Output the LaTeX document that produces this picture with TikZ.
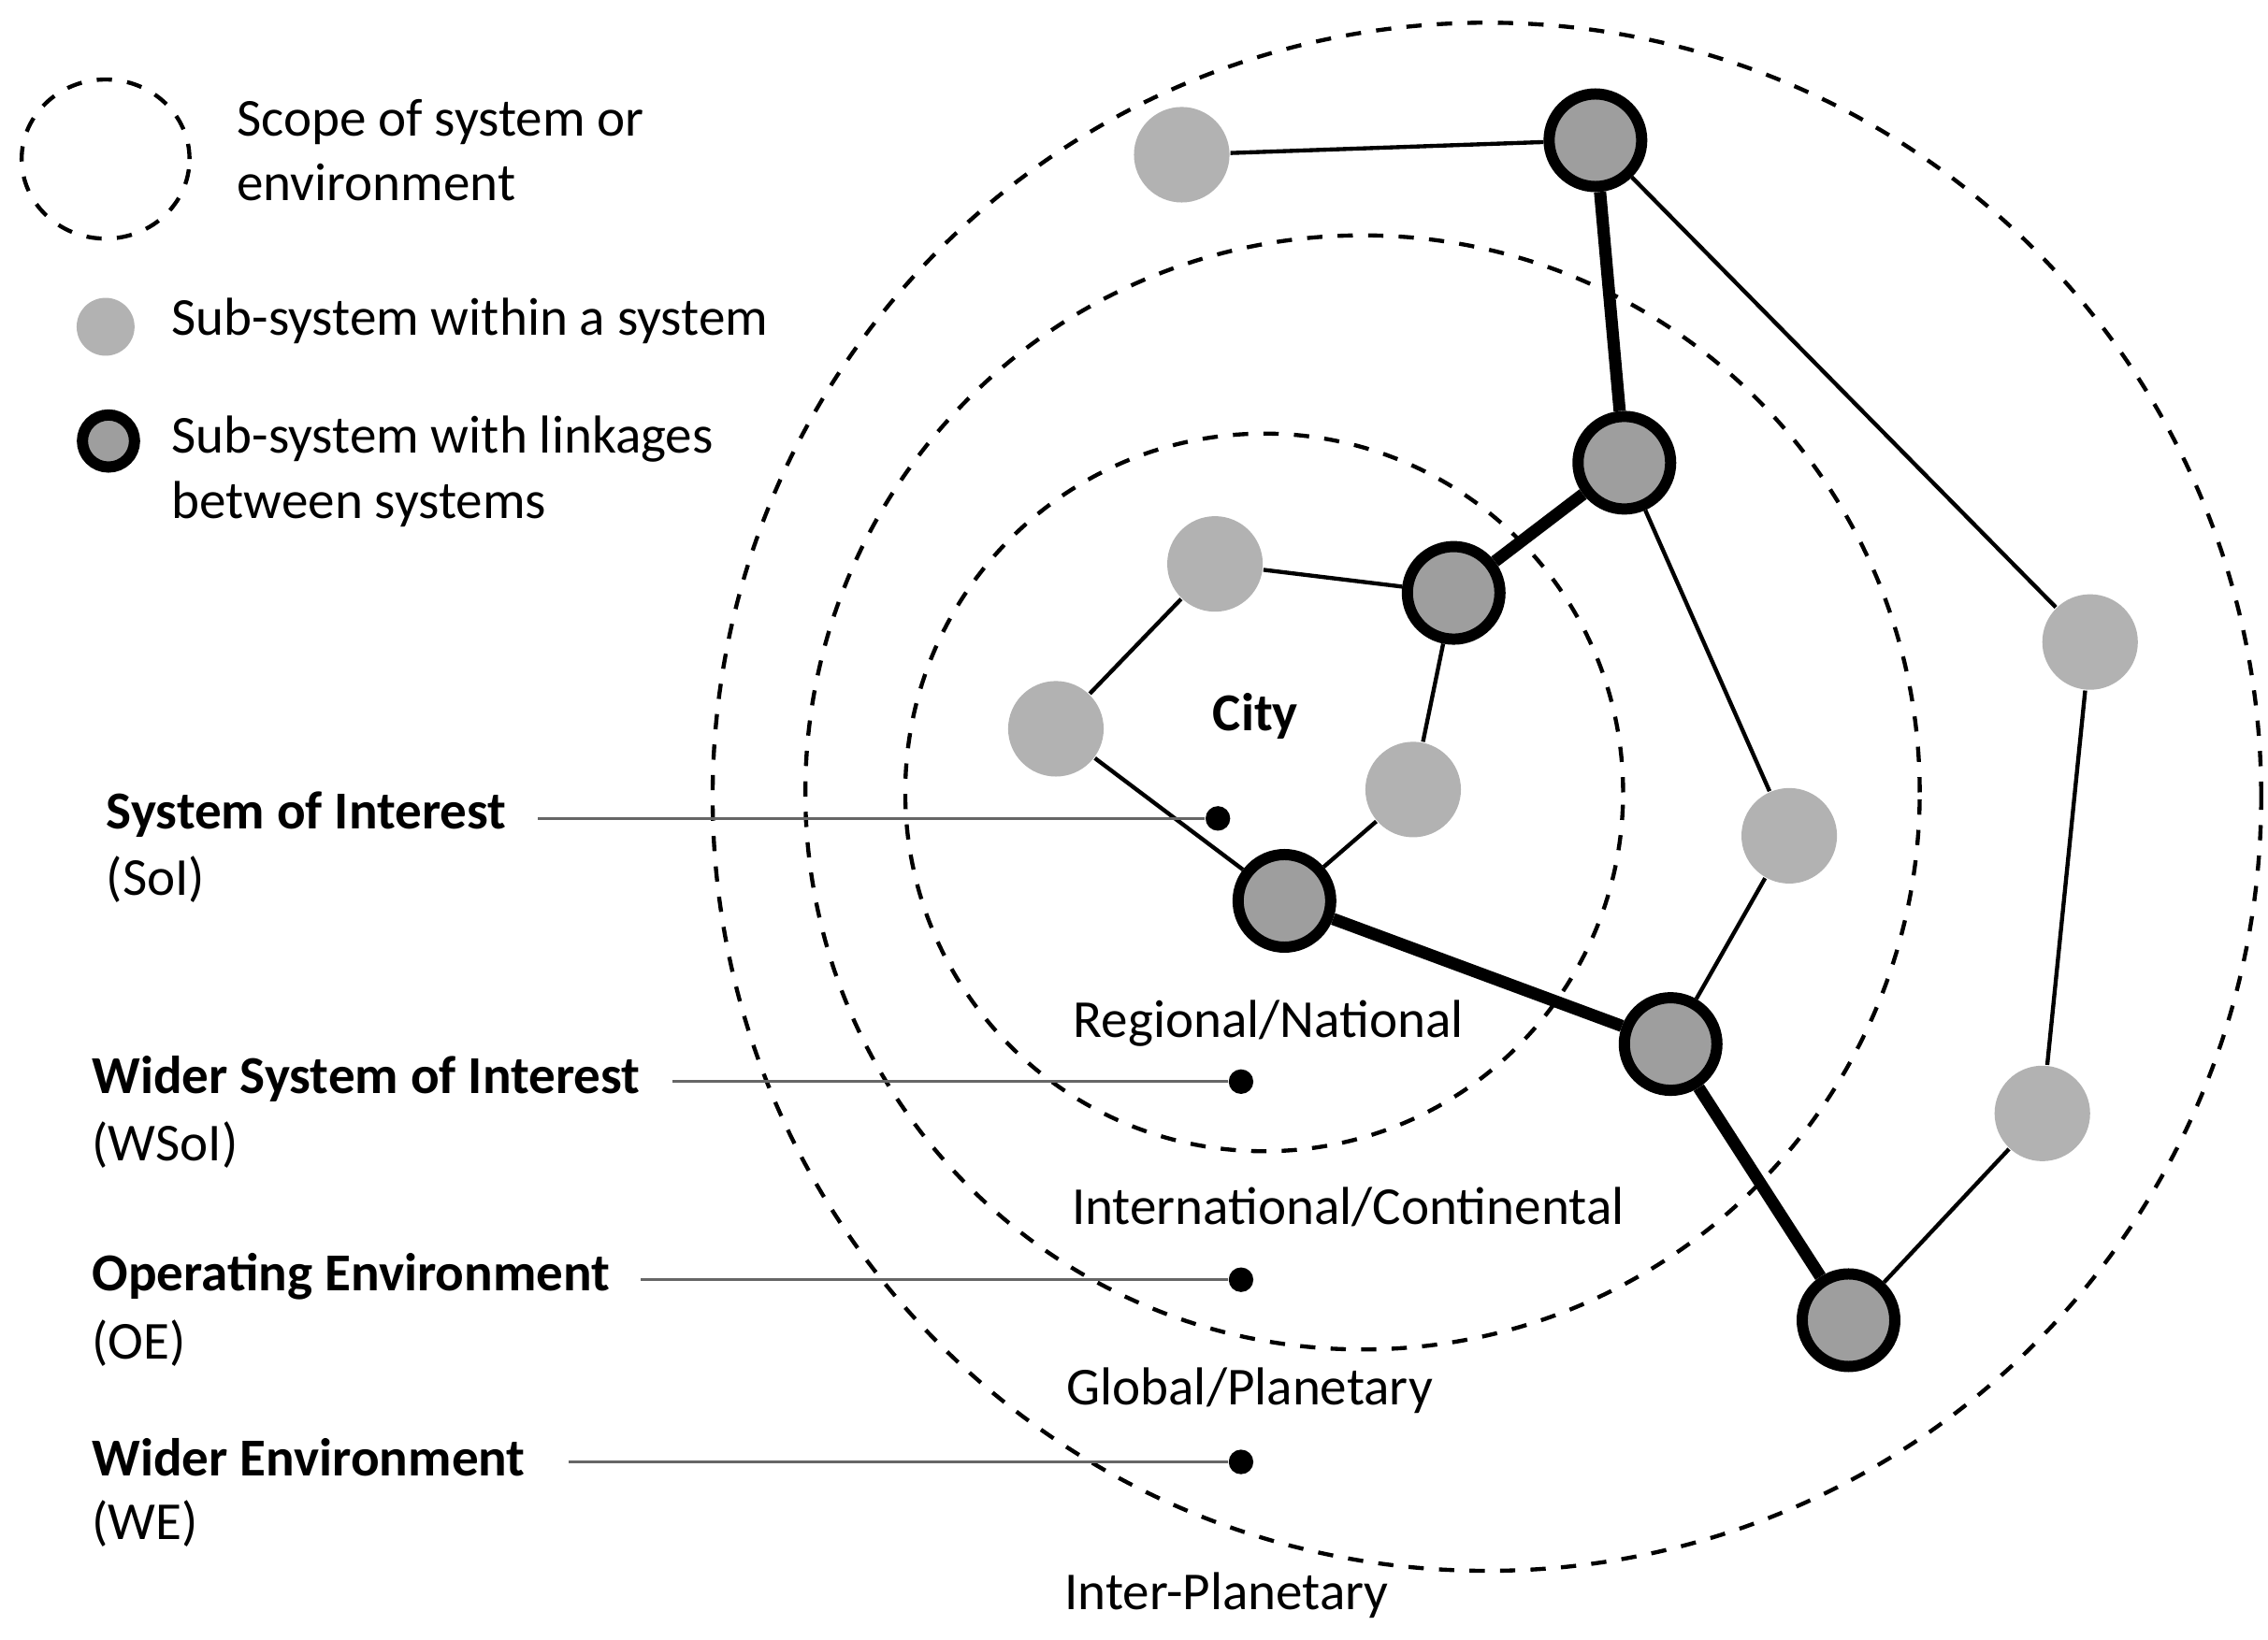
\documentclass[tikz,border=0pt]{standalone}
\usepackage{fontspec}
\setmainfont{Carlito}
\begin{document}
\begin{tikzpicture}[x=0.01cm,y=-0.01cm,
  light/.style={circle,fill=black!30,inner sep=0pt,minimum size=0.66cm},
  heavy/.style={circle,fill=black!38,draw=black,line width=2.2pt,inner sep=0pt,minimum size=0.64cm},
  scope/.style={dashed,line width=0.8pt},
  thin/.style={line width=0.8pt},
  thick2/.style={line width=2.4pt},
  lead/.style={line width=0.5pt,draw=black!60},
  pt/.style={circle,fill=black,inner sep=0pt,minimum size=0.17cm},
  txt/.style={font=\fontsize{10.5pt}{12.8pt}\selectfont,inner sep=0pt},
  lbl/.style={txt,anchor=west,align=left}]
\useasboundingbox (0,0) rectangle (1568,1134);
\fill[white] (0,0) rectangle (1568,1134);
% scopes
\draw[scope] (1028,551) circle (5.35cm);
\draw[scope] (942,548) circle (3.85cm);
\draw[scope] (874,548) circle (2.48cm);
\draw[scope] (73,110) ellipse (0.58cm and 0.55cm);
% nodes
\node[light] (A) at (817,107) {};
\node[heavy] (B) at (1103,97) {};
\node[heavy] (C) at (1123,320) {};
\node[heavy] (D) at (1005,410) {};
\node[light] (E) at (840,390) {};
\node[light] (F) at (730,504) {};
\node[light] (G) at (977,546) {};
\node[heavy] (H) at (888,623) {};
\node[light] (I) at (1237,578) {};
\node[heavy] (J) at (1155,722) {};
\node[light] (K) at (1445,444) {};
\node[light] (L) at (1412,770) {};
\node[heavy] (M) at (1278,913) {};
\draw[thin] (A)--(B) (B)--(K) (C)--(I) (D)--(E) (D)--(G) (E)--(F) (F)--(H) (G)--(H) (I)--(J) (K)--(L) (L)--(M);
\draw[thick2] (B)--(C) (C)--(D) (H)--(J) (J)--(M);
% legend
\node[light,minimum size=0.4cm] (l1) at (73,226) {};
\node[heavy,minimum size=0.36cm] (l2) at (75,305) {};
\node[lbl] (t0) at (163,104) {Scope of system or\\environment};
\node[lbl] (t1) at (118,222) {Sub-system within a system};
\node[lbl] (t2) at (118,326) {Sub-system with linkages\\between systems};
% level labels
\node[txt,font=\fontsize{10.5pt}{12.8pt}\selectfont\bfseries] (city) at (868,495) {City};
\node[txt] (c1) at (877,708) {Regional/National};
\node[txt] (c2) at (932,835) {International/Continental};
\node[txt] (c3) at (864,962) {Global/Planetary};
\node[txt] (c4) at (848,1103) {Inter-Planetary};
% left labels
\node[lbl] (s1) at (73,563) {\textbf{System of Interest}};
\node[lbl] (s1b) at (73,608) {(SoI)};
\node[lbl] (s2) at (63,746) {\textbf{Wider System of Interest}};
\node[lbl] (s2b) at (63,792) {(WSoI)};
\node[lbl] (s3) at (63,883) {\textbf{Operating Environment}};
\node[lbl] (s3b) at (63,929) {(OE)};
\node[lbl] (s4) at (63,1008) {\textbf{Wider Environment}};
\node[lbl] (s4b) at (63,1054) {(WE)};
\node[pt] (p1) at (842,566) {};
\node[pt] (p2) at (858,748) {};
\node[pt] (p3) at (858,885) {};
\node[pt] (p4) at (858,1011) {};
\coordinate (q1) at (372,566);
\coordinate (q2) at (465,748);
\coordinate (q3) at (443,885);
\coordinate (q4) at (393,1011);
\draw[lead] (q1)--(p1) (q2)--(p2) (q3)--(p3) (q4)--(p4);
\end{tikzpicture}
\end{document}
